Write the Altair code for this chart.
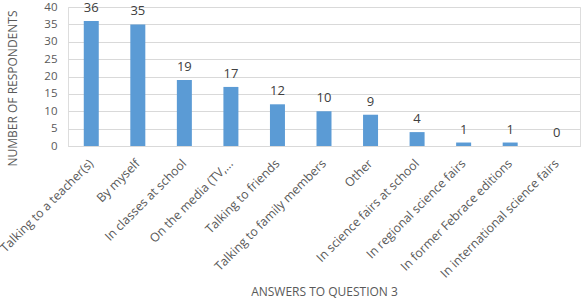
import altair as alt
import pandas as pd

answers = [
    "Talking to a teacher(s)", "By myself", "In classes at school", "On the media (TV,...",
    "Talking to friends", "Talking to family members", "Other", "In science fairs at school",
    "In regional science fairs", "In former Febrace editions", "In international science fairs",
]
counts = [36, 35, 19, 17, 12, 10, 9, 4, 1, 1, 0]
y_ticks = [0, 5, 10, 15, 20, 25, 30, 35, 40]

df = pd.DataFrame({"answer": answers, "count": counts})
FONT = "Open Sans"
GREY = "#595959"

base = alt.Chart(df).encode(
    x=alt.X("answer:N", sort=answers, title="ANSWERS TO QUESTION 3",
            scale=alt.Scale(paddingInner=0.0, paddingOuter=0.0),
            axis=alt.Axis(labelAngle=-45, labelAlign="right", labelBaseline="middle",
                          labelPadding=15, ticks=False, domainColor="#d9d9d9",
                          labelFont=FONT, labelFontSize=12.3, labelColor=GREY,
                          titleFont=FONT, titleFontSize=12, titleColor=GREY,
                          titleFontWeight="normal", titleY=140, labelLimit=300)),
    y=alt.Y("count:Q", title="NUMBER OF RESPONDENTS",
            scale=alt.Scale(domain=[0, 40]),
            axis=alt.Axis(values=y_ticks, ticks=False, domain=False, gridColor="#d9d9d9",
                          labelPadding=11, labelFont=FONT, labelFontSize=11.5, labelColor=GREY,
                          labelOverlap=False,
                          titleFont=FONT, titleFontSize=12, titleColor=GREY,
                          titleFontWeight="normal", titleX=-49, titleY=81)),
)

bars = base.mark_bar(color="#5B9BD5", size=15)

text = base.mark_text(dy=-13, font=FONT, fontSize=13, color="#404040").encode(
    text="count:Q"
)

chart = (bars + text).properties(
    width=512, height=139,
    padding={"left": 68, "top": 7, "right": 8, "bottom": 160},
    autosize=alt.AutoSizeParams(type="none"),
).configure_view(stroke=None).configure(background="white")

chart.save("out.html", embed_options={"renderer": "svg", "actions": False})
